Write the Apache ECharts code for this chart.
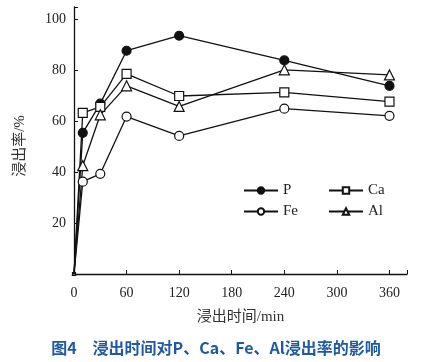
<!DOCTYPE html>
<html><head><meta charset="utf-8">
<script src="https://cdn.jsdelivr.net/npm/echarts@6/dist/echarts.min.js"></script>
<style>html,body{margin:0;padding:0;background:#fff}#c{width:432px;height:362px}</style>
</head><body><div id="c"></div>
<script>
var times = [0, 10, 30, 60, 120, 240, 360];
var P  = [0, 55.5, 67, 87.8, 93.7, 84, 74];
var Ca = [0, 63.4, 65.7, 78.7, 70, 71.4, 67.8];
var Fe = [0, 36.3, 39.4, 61.9, 54.3, 65, 62.2];
var Al = [0, 42.6, 62.6, 74, 65.9, 80.3, 78.3];
var xTicks = [0, 60, 120, 180, 240, 300, 360];
var yTicks = [20, 40, 60, 80, 100];
var FONT = '"Liberation Serif", "Noto Sans CJK SC", serif';

function pairs(ys){
  return times.map(function(t,i){
    var d = {value:[t, ys[i]]};
    if (i === 0) d.symbolSize = 3;
    return d;
  });
}
function mk(name, ys, symbol, filled){
  return {
    name: name, type: 'line', data: pairs(ys),
    symbol: symbol, symbolSize: symbol === 'triangle' ? 10 : 9,
    lineStyle: {color: '#111', width: 1.3},
    itemStyle: {color: filled ? '#111' : '#fff', borderColor: '#111', borderWidth: 1.2},
    emphasis: {disabled: true}, animation: false, z: 3
  };
}
var chart = echarts.init(document.getElementById('c'));
function lg(name, left, top){
  return {
    data: [name], left: left, top: top,
    itemWidth: 34, itemHeight: 8, itemGap: 10,
    textStyle: {fontFamily: FONT, fontSize: 15, color: '#222'}
  };
}
chart.setOption({
  animation: false,
  grid: {left: 74, right: 25, top: 7, bottom: 88},
  title: {
    text: '图4\u3000浸出时间对P、Ca、Fe、Al浸出率的影响',
    left: 'center', top: 335,
    textStyle: {fontFamily: '"Noto Sans CJK SC", sans-serif', fontSize: 16, fontWeight: 'bold', color: '#1f5aa0'}
  },
  graphic: [{
    type: 'text', x: 20, y: 146, rotation: Math.PI / 2,
    style: {text: '浸出率/%', fontFamily: FONT, fontSize: 15, fill: '#333',
      align: 'center', verticalAlign: 'middle'}
  }],
  legend: [
    lg('P', 238, 178), lg('Ca', 323, 178),
    lg('Fe', 238, 199), lg('Al', 323, 199)
  ],
  xAxis: {
    type: 'value', min: 0, max: 380, interval: 60,
    name: '浸出时间/min', nameLocation: 'middle', nameGap: 36,
    nameTextStyle: {fontFamily: FONT, fontSize: 15, color: '#333'},
    axisLine: {lineStyle: {color: '#111', width: 1.3}},
    axisTick: {inside: true, length: 4, lineStyle: {color: '#111'}},
    axisLabel: {fontFamily: FONT, fontSize: 14, color: '#222', margin: 12,
      formatter: function(v){ return xTicks.indexOf(v) >= 0 ? String(v) : ''; }},
    splitLine: {show: false}
  },
  yAxis: {
    type: 'value', min: 0, max: 105, interval: 20,
    axisLine: {lineStyle: {color: '#111', width: 1.3}},
    axisTick: {inside: true, length: 4, lineStyle: {color: '#111'}},
    axisLabel: {fontFamily: FONT, fontSize: 14, color: '#222', margin: 8,
      formatter: function(v){ return yTicks.indexOf(v) >= 0 ? String(v) : ''; }},
    splitLine: {show: false}
  },
  series: [
    mk('P', P, 'circle', true),
    mk('Ca', Ca, 'rect', false),
    mk('Fe', Fe, 'circle', false),
    mk('Al', Al, 'triangle', false)
  ]
});
</script></body></html>
